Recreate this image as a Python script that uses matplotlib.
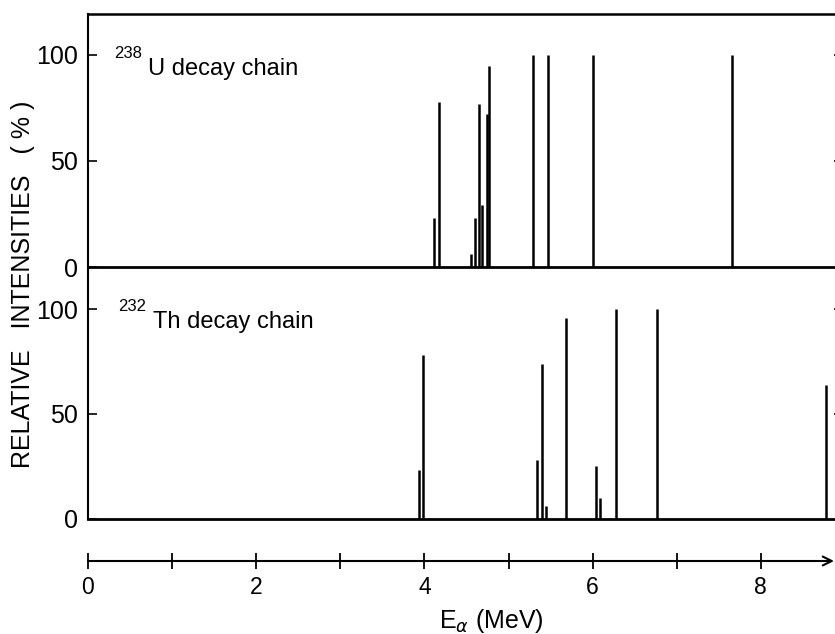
import numpy as np
import matplotlib
matplotlib.use('Agg')
import matplotlib.pyplot as plt

#%%

# Data (alpha energies in MeV, relative intensities in %)

u_energy = [4.12, 4.17, 4.55, 4.60, 4.65, 4.68, 4.74, 4.77, 5.29, 5.47, 6.00, 7.66]
u_intensity = [23, 78, 6, 23, 77, 29, 72, 95, 100, 100, 100, 100]

th_energy = [3.93, 3.98, 5.34, 5.40, 5.45, 5.68, 6.04, 6.09, 6.28, 6.77, 8.78]
th_intensity = [23, 78, 28, 74, 6, 96, 25, 10, 100, 100, 64]

y_ticks = [0, 50, 100]
x_ticks = [0, 1, 2, 3, 4, 5, 6, 7, 8]
x_ticklabels = ['0', '', '2', '', '4', '', '6', '', '8']

#%%

plt.rcParams['font.family'] = ['Liberation Sans', 'DejaVu Sans']

W, H = 835, 634
XMAX = 8.9

def box(l, t, r, b):
    '''
    pixel box -> figure fraction rect
    '''
    return [l / W, 1 - b / H, (r - l) / W, (b - t) / H]

fig = plt.figure(figsize=(W / 100, H / 100), dpi=100)

ax_u = fig.add_axes(box(88, 14, 836.5, 267))
ax_l = fig.add_axes(box(88, 267, 836.5, 518.5))

ax_u.vlines(u_energy, 0, u_intensity, colors='black', lw=1.8)
ax_l.vlines(th_energy, 0, th_intensity, colors='black', lw=1.8)

ax_u.set_ylim(0, 119.3)
ax_l.set_ylim(0, 120.3)

for ax in (ax_u, ax_l):
    ax.patch.set_visible(False)
    ax.set_xlim(0, XMAX)
    ax.set_xticks([])
    ax.set_yticks(y_ticks)
    ax.tick_params(axis='y', direction='in', length=6.5, width=1.2, pad=7,
                   labelsize=18)
    ax.spines['left'].set_linewidth(1.5)
    ax.spines['bottom'].set_linewidth(2)
    ax.spines['top'].set_linewidth(1.8)
    ax.spines['right'].set_linewidth(1.5)
    # small ticks on the right edge
    tw = ax.twinx()
    tw.set_ylim(ax.get_ylim())
    tw.set_yticks(y_ticks[1:])
    tw.set_yticklabels([])
    tw.tick_params(axis='y', direction='in', length=2.5, width=1.2)
    for s in tw.spines.values():
        s.set_visible(False)

ax_l.spines['top'].set_visible(False)

# chain labels
ax_u.text(0.31, 98.6, '238', fontsize=12, va='baseline', ha='left')
ax_u.text(0.713, 90.5, 'U decay chain', fontsize=17, va='baseline', ha='left')
ax_l.text(0.357, 99.3, '232', fontsize=12, va='baseline', ha='left')
ax_l.text(0.773, 91.1, 'Th decay chain', fontsize=17, va='baseline', ha='left')

# energy axis drawn as a separate arrow
ax_x = fig.add_axes(box(88, 560, 836.5, 561))
ax_x.patch.set_visible(False)
ax_x.set_xlim(0, XMAX)
ax_x.set_ylim(0, 1)
for s in ['left', 'right', 'top', 'bottom']:
    ax_x.spines[s].set_visible(False)
ax_x.set_yticks([])
ax_x.set_xticks(x_ticks)
ax_x.set_xticklabels(x_ticklabels)
ax_x.tick_params(axis='x', direction='inout', length=11, width=1.3, pad=5,
                 labelsize=16.5)
ax_x.annotate('', xy=(8.87, 0), xytext=(0, 0), xycoords='data',
              arrowprops=dict(arrowstyle='->', lw=1.5, color='black',
                              mutation_scale=16, shrinkA=0, shrinkB=0),
              annotation_clip=False)

fig.text(491 / W, 1 - 621 / H, r'E$_{\alpha}$ (MeV)', fontsize=18,
         ha='center', va='center')
fig.text(23 / W, 1 - 284 / H, 'RELATIVE   INTENSITIES   ( % )', fontsize=18,
         rotation=90, ha='center', va='center')

fig.savefig('out.png', dpi=100)
